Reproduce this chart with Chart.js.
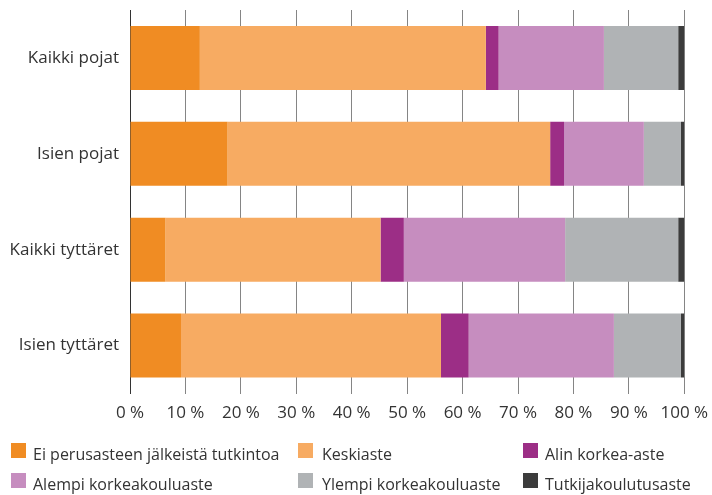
<!DOCTYPE html>
<html>
<head>
<meta charset="utf-8">
<script src="https://cdn.jsdelivr.net/npm/chart.js@4/dist/chart.umd.min.js"></script>
<style>
  html, body { margin: 0; padding: 0; background: #fff; }
  #wrap { position: relative; width: 712px; height: 495px; }
  canvas { position: absolute; left: 0; top: 0; }
  .item { position: absolute; height: 24px; line-height: 24px; font-family: "Open Sans", sans-serif; font-size: 16px; color: #333; white-space: nowrap; }
  .box { position: absolute; top: 1px; width: 15px; height: 15px; }
  .lbl { position: absolute; top: 0; }
</style>
</head>
<body>
<div id="wrap">
  <canvas id="c" width="712" height="495"></canvas>
  <div id="legend"></div>
</div>
<script>
const categories = ["Kaikki pojat", "Isien pojat", "Kaikki tyttäret", "Isien tyttäret"];
const seriesNames = ["Ei perusasteen jälkeistä tutkintoa", "Keskiaste", "Alin korkea-aste", "Alempi korkeakouluaste", "Ylempi korkeakouluaste", "Tutkijakoulutusaste"];
const eiPerusasteen = [12.6, 17.6, 6.4, 9.2];
const keskiaste = [51.6, 58.2, 38.8, 46.9];
const alinKorkea = [2.3, 2.5, 4.2, 5.0];
const alempiKorkeakoulu = [19.0, 14.4, 29.1, 26.2];
const ylempiKorkeakoulu = [13.4, 6.7, 20.4, 12.1];
const tutkijakoulutus = [1.1, 0.6, 1.1, 0.6];
const xTicks = [0, 10, 20, 30, 40, 50, 60, 70, 80, 90, 100];

const colors = ["#F08C23", "#F7AB62", "#9C2E86", "#C68DBF", "#B0B3B5", "#3C3C3C"];
const seriesValues = [eiPerusasteen, keskiaste, alinKorkea, alempiKorkeakoulu, ylempiKorkeakoulu, tutkijakoulutus];

const FONT = "'Open Sans', sans-serif";

const datasets = seriesNames.map((name, i) => ({
  label: name,
  data: seriesValues[i],
  backgroundColor: colors[i],
  borderWidth: 0,
  categoryPercentage: 1,
  barPercentage: 0.667
}));

new Chart(document.getElementById('c'), {
  type: 'bar',
  data: { labels: categories, datasets },
  options: {
    indexAxis: 'y',
    responsive: false,
    animation: false,
    layout: { padding: { top: 10, right: 27.7, bottom: 70, left: 0 } },
    plugins: { legend: { display: false }, tooltip: { enabled: false } },
    scales: {
      x: {
        stacked: true,
        min: 0, max: 100,
        afterBuildTicks: (s) => { s.ticks = xTicks.map(v => ({ value: v })); },
        afterFit: (s) => { s.height = 31.5; s.paddingLeft = 0; s.paddingRight = 0; },
        ticks: {
          callback: (v) => v + ' %',
          color: '#333',
          font: { family: FONT, size: 17 },
          padding: 9,
          maxRotation: 0, autoSkip: false
        },
        grid: { color: '#858585', lineWidth: 1, drawTicks: false },
        border: { display: false }
      },
      y: {
        stacked: true,
        afterFit: (s) => { s.width = 130; s.paddingTop = 0; s.paddingBottom = 0; },
        ticks: {
          color: '#333',
          font: { family: FONT, size: 17 },
          padding: 11
        },
        grid: { display: false, drawTicks: false },
        border: { display: true, color: '#333', width: 1 }
      }
    }
  }
});

// HTML legend built from the series
const legendPos = [
  [11, 33, 442], [298, 322, 442], [523, 545, 442],
  [11, 33, 472], [298, 322, 472], [523, 545, 472]
];
const leg = document.getElementById('legend');
seriesNames.forEach((name, i) => {
  const [bx, tx, ty] = legendPos[i];
  const d = document.createElement('div');
  d.className = 'item';
  d.style.left = '0px';
  d.style.top = ty + 'px';
  const b = document.createElement('span');
  b.className = 'box';
  b.style.left = bx + 'px';
  b.style.background = colors[i];
  const t = document.createElement('span');
  t.className = 'lbl';
  t.style.left = tx + 'px';
  t.textContent = name;
  d.appendChild(b);
  d.appendChild(t);
  leg.appendChild(d);
});
</script>
</body>
</html>
